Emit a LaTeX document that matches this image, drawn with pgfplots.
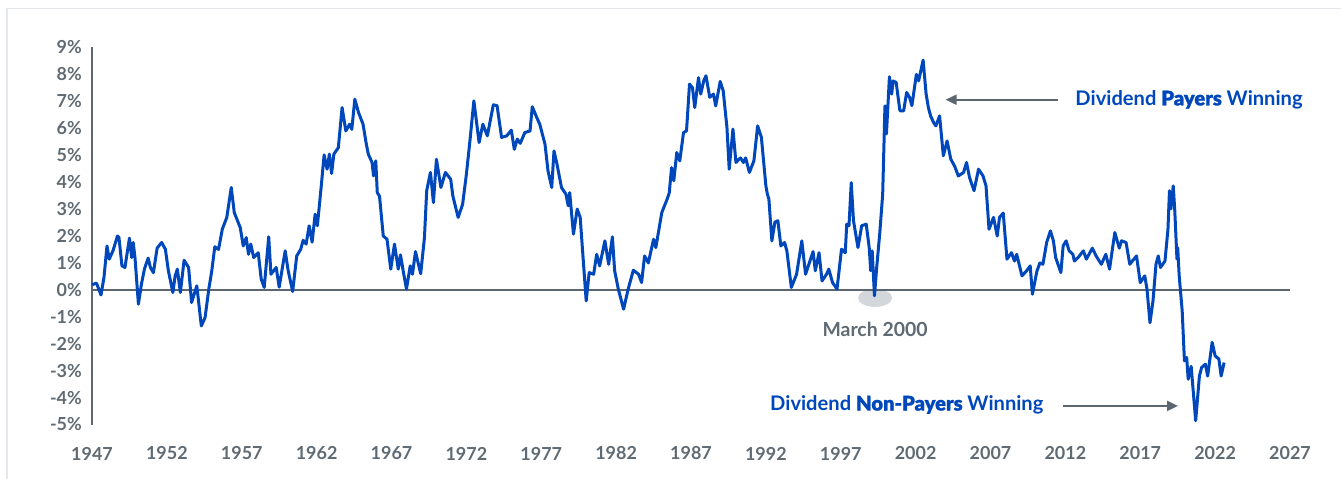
\documentclass[border=0pt]{standalone}
\usepackage{fontspec}
\setmainfont{Lato}
\newfontfamily\latoheavy{Lato Bold}[FakeBold=1.2]
\usepackage{pgfplots}
\pgfplotsset{compat=1.18}
\usetikzlibrary{arrows.meta}
\definecolor{lineblue}{HTML}{0047BB}
\definecolor{axgray}{HTML}{5B6670}
\definecolor{tickgray}{HTML}{5F6A73}
\definecolor{framegray}{HTML}{E4E8ED}
\definecolor{ellgray}{HTML}{D3D6DA}
\pgfplotstableread{
year val
1947.0 0.19
1947.3 0.25
1947.6 -0.19
1947.8 0.46
1948.0 1.63
1948.15 1.14
1948.4 1.45
1948.7 2.0
1948.8 1.95
1949.0 0.89
1949.2 0.83
1949.5 1.92
1949.65 1.2
1949.75 1.76
1949.87 1.2
1950.1 -0.53
1950.3 0.21
1950.5 0.77
1950.75 1.18
1950.9 0.83
1951.1 0.64
1951.35 1.55
1951.65 1.76
1951.9 1.51
1952.1 0.71
1952.4 -0.1
1952.55 0.51
1952.7 0.77
1952.9 -0.1
1953.15 1.1
1953.45 0.83
1953.65 -0.47
1954.0 0.15
1954.3 -1.34
1954.55 -1.03
1954.8 0.03
1955.0 0.71
1955.2 1.6
1955.45 1.5
1955.7 2.25
1956.0 2.69
1956.3 3.8
1956.5 2.87
1956.9 2.31
1957.1 1.63
1957.3 1.94
1957.45 1.32
1957.6 1.7
1957.8 1.2
1958.1 1.38
1958.3 0.4
1958.5 0.09
1958.8 1.97
1958.95 0.58
1959.3 0.83
1959.5 0.1
1959.9 1.45
1960.1 0.71
1960.4 -0.06
1960.67 1.26
1960.94 1.51
1961.1 1.84
1961.3 1.7
1961.5 2.38
1961.7 1.77
1961.9 2.81
1962.05 2.38
1962.3 3.8
1962.5 5.01
1962.7 4.48
1962.85 5.04
1963.0 4.32
1963.15 5.04
1963.45 5.28
1963.7 6.77
1963.95 5.9
1964.2 6.15
1964.35 5.96
1964.55 7.08
1964.8 6.58
1965.1 6.15
1965.3 5.47
1965.45 5.04
1965.7 4.73
1965.8 4.23
1965.95 4.79
1966.05 3.61
1966.2 3.48
1966.45 2.0
1966.7 1.88
1966.95 0.77
1967.2 1.7
1967.45 0.77
1967.6 1.3
1967.8 0.64
1968.0 0.03
1968.25 0.89
1968.4 0.58
1968.6 1.42
1968.95 0.6
1969.2 1.94
1969.35 3.68
1969.6 4.36
1969.8 3.24
1970.0 4.85
1970.3 3.8
1970.6 4.36
1970.95 4.11
1971.1 3.48
1971.45 2.69
1971.75 3.18
1972.0 4.29
1972.25 5.6
1972.5 7.02
1972.85 5.47
1973.1 6.15
1973.4 5.72
1973.8 6.87
1974.05 6.84
1974.35 5.66
1974.7 5.72
1975.0 5.93
1975.2 5.22
1975.4 5.6
1975.6 5.44
1975.9 5.84
1976.25 5.9
1976.4 6.8
1976.7 6.4
1976.9 6.15
1977.25 5.41
1977.45 4.42
1977.7 3.8
1977.85 5.16
1978.05 4.67
1978.35 3.8
1978.65 3.55
1978.8 3.12
1978.9 3.61
1979.15 2.07
1979.4 3.0
1979.6 2.69
1980.0 -0.41
1980.2 0.64
1980.5 0.58
1980.7 1.32
1980.9 0.89
1981.25 1.82
1981.5 0.95
1981.75 1.97
1981.9 0.71
1982.15 0.02
1982.5 -0.72
1982.8 0.02
1983.15 0.73
1983.5 0.58
1983.7 0.27
1983.9 1.26
1984.15 1.0
1984.5 1.88
1984.65 1.57
1985.05 2.87
1985.4 3.36
1985.55 3.61
1985.7 4.54
1985.85 4.05
1986.05 5.1
1986.25 4.79
1986.5 5.84
1986.7 5.9
1986.9 7.64
1987.1 7.5
1987.25 6.77
1987.5 7.88
1987.65 7.27
1987.85 7.76
1988.0 7.95
1988.25 7.15
1988.5 7.27
1988.65 6.83
1988.95 7.74
1989.15 7.39
1989.4 6.03
1989.55 4.48
1989.8 5.97
1990.0 4.73
1990.3 4.9
1990.5 4.73
1990.65 4.9
1990.9 4.36
1991.2 4.79
1991.45 6.09
1991.7 5.66
1992.0 3.86
1992.1 3.55
1992.2 3.37
1992.4 1.82
1992.6 2.51
1992.8 2.57
1993.0 1.63
1993.25 1.76
1993.4 1.45
1993.7 0.09
1994.05 0.58
1994.4 1.82
1994.65 0.58
1995.15 1.42
1995.3 0.71
1995.55 1.38
1995.75 0.33
1996.05 0.58
1996.2 0.77
1996.45 0.27
1996.75 0.03
1997.05 1.51
1997.3 1.38
1997.4 2.44
1997.55 2.38
1997.7 3.98
1997.85 2.57
1998.15 1.57
1998.4 2.38
1998.7 2.44
1998.9 1.57
1999.0 0.71
1999.1 1.45
1999.25 -0.22
1999.4 0.83
1999.6 2.07
1999.8 3.55
1999.95 6.83
2000.05 5.79
2000.25 7.91
2000.4 7.27
2000.5 7.76
2000.7 7.7
2000.95 6.65
2001.2 6.65
2001.4 7.33
2001.6 7.14
2001.75 6.84
2002.05 8.0
2002.2 7.76
2002.5 8.53
2002.7 7.27
2002.85 6.77
2003.0 6.46
2003.2 6.21
2003.35 6.09
2003.6 6.46
2003.85 4.98
2004.1 5.53
2004.35 4.85
2004.6 4.6
2004.85 4.23
2005.2 4.36
2005.4 4.73
2005.6 4.17
2005.9 3.68
2006.2 4.48
2006.5 4.23
2006.7 3.86
2006.9 2.25
2007.2 2.69
2007.45 2.0
2007.6 2.69
2007.85 2.85
2008.1 1.14
2008.4 1.38
2008.6 1.07
2008.75 1.32
2009.1 0.52
2009.4 0.7
2009.65 0.89
2009.8 -0.16
2010.1 0.7
2010.3 1.0
2010.5 0.95
2010.75 1.76
2011.0 2.19
2011.2 1.82
2011.35 1.2
2011.7 0.64
2011.85 1.63
2012.05 1.82
2012.25 1.45
2012.5 1.32
2012.6 1.07
2012.85 1.2
2013.2 1.45
2013.4 1.14
2013.8 1.55
2014.05 1.26
2014.4 0.95
2014.7 1.32
2014.95 0.77
2015.3 2.13
2015.6 1.55
2015.75 1.82
2016.05 1.76
2016.3 0.95
2016.75 1.26
2017.0 0.27
2017.3 0.52
2017.45 0.02
2017.65 -1.22
2017.85 -0.41
2018.05 0.95
2018.2 1.26
2018.35 0.83
2018.65 1.07
2018.85 2.25
2018.95 3.68
2019.05 3.01
2019.2 3.86
2019.3 3.0
2019.45 1.14
2019.5 1.57
2019.6 0.52
2019.8 -0.78
2019.95 -2.64
2020.1 -2.51
2020.2 -3.32
2020.4 -2.84
2020.7 -4.86
2020.95 -3.2
2021.1 -2.88
2021.35 -2.76
2021.5 -3.2
2021.8 -1.95
2022.0 -2.45
2022.25 -2.57
2022.4 -3.2
2022.6 -2.7
}\datatable

\begin{document}
\begin{tikzpicture}
\useasboundingbox (0,0) rectangle (1341bp,479bp);
\draw[framegray, line width=1.5bp] (7bp,0) -- (7bp,470.5bp) -- (1341bp,470.5bp);
\begin{axis}[
  at={(92bp,54.5bp)}, anchor=south west,
  x=14.975bp, y=26.93bp,
  xmin=1947, xmax=2027, ymin=-5, ymax=9,
  clip=false,
  axis x line*=bottom, axis y line*=left,
  x axis line style={draw=none},
  y axis line style={axgray, line width=1.5bp, -},
  major tick length=0pt,
  tick style={draw=none},
  xtick={1947,1952,...,2027},
  xticklabel={\pgfmathprintnumber[int detect, 1000 sep={}]{\tick}},
  ytick={-5,-4,...,9},
  yticklabels={-5\%,-4\%,-3\%,-2\%,-1\%,0\%,1\%,2\%,3\%,4\%,5\%,6\%,7\%,8\%,9\%},
  /pgf/number format/assume math mode=true,
  xticklabel style={anchor=center, yshift=-29bp, inner sep=0pt, font=\fontsize{18}{18}\selectfont\bfseries, text=tickgray},
  yticklabel style={anchor=east, xshift=-10bp, inner sep=0pt, font=\fontsize{18}{18}\selectfont\bfseries, text=tickgray},
]
\fill[ellgray] (axis cs:1999.29,-0.3) ellipse [x radius=17bp, y radius=9bp];
\draw[axgray, line width=1.5bp] (axis cs:1947,0) -- (axis cs:2027,0);
\addplot[lineblue, line width=3bp, line join=round, mark=none] table[x=year, y=val] {\datatable};
\node[anchor=center, font=\fontsize{19.5}{19.5}\selectfont\bfseries, text=tickgray] at (axis cs:1999.29,-1.45) {March 2000};
\draw[axgray, line width=2bp, -{Triangle[length=11bp,width=10bp]}] (axis cs:2011.5,7.06) -- (axis cs:2004.0,7.06);
\node[anchor=west, font=\fontsize{20.2}{20.2}\selectfont\bfseries, text=lineblue] at (axis cs:2012.44,7.06) {Dividend {\latoheavy Payers} Winning};
\draw[axgray, line width=2bp, -{Triangle[length=11bp,width=10bp]}] (axis cs:2011.84,-4.31) -- (axis cs:2019.52,-4.31);
\node[anchor=east, font=\fontsize{20.2}{20.2}\selectfont\bfseries, text=lineblue] at (axis cs:2010.77,-4.27) {Dividend {\latoheavy Non-Payers} Winning};
\end{axis}
\end{tikzpicture}
\end{document}
